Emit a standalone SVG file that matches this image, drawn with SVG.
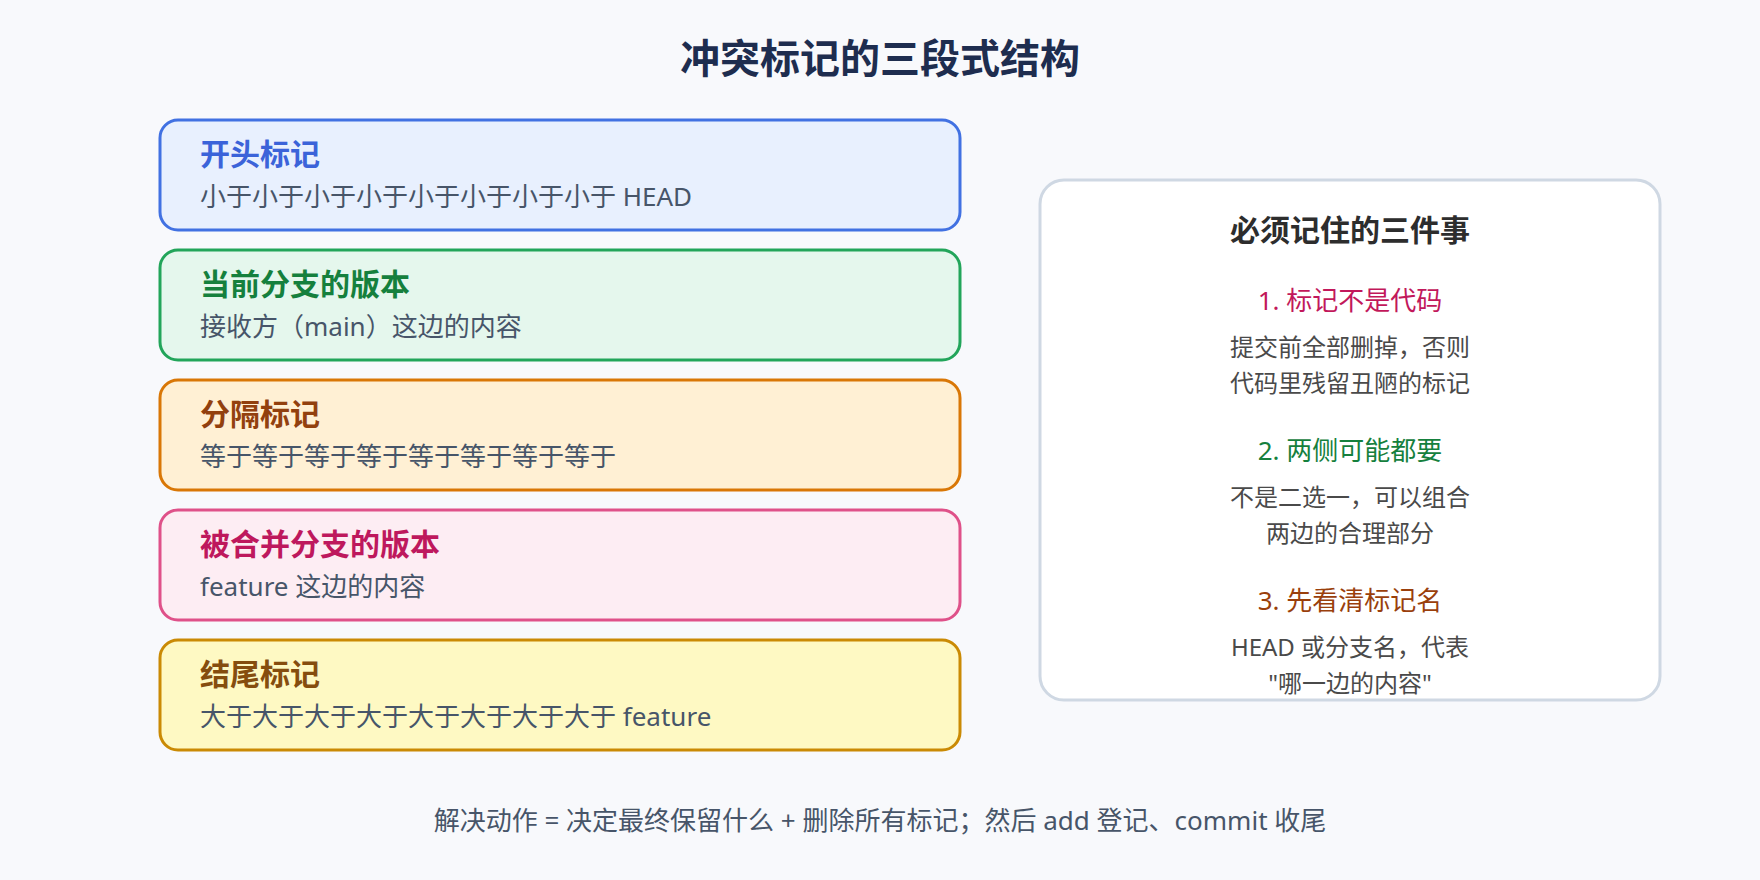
<svg xmlns="http://www.w3.org/2000/svg" width="1760" height="880" viewBox="0 0 1760 880">
<style>
text{font-family:"Noto Sans","Noto Sans CJK SC",sans-serif;}
.title{font-size:40px;font-weight:700;fill:#1e2d4f;text-anchor:middle;}
.box{stroke-width:3;}
.h{font-size:30px;font-weight:700;}
.s{font-size:26px;fill:#475569;}
.pt{font-size:30px;font-weight:700;fill:#2d2d2d;text-anchor:middle;}
.ih{font-size:26px;text-anchor:middle;}
.d{font-size:24px;fill:#4a4a4a;text-anchor:middle;}
.foot{font-size:26px;fill:#475569;text-anchor:middle;}
</style>
<rect x="0" y="0" width="1760" height="880" fill="#f8f9fc"/>
<text class="title" x="880" y="73">冲突标记的三段式结构</text>
<g id="start-marker">
<rect class="box" x="160" y="120" width="800" height="110" rx="18" fill="#e8f0fe" stroke="#4171e2"/>
<text class="h" x="200" y="165" fill="#3b63d9">开头标记</text>
<text class="s" x="200" y="206">小于小于小于小于小于小于小于小于 HEAD</text>
</g>
<g id="current-version">
<rect class="box" x="160" y="250" width="800" height="110" rx="18" fill="#e5f7ed" stroke="#22a55a"/>
<text class="h" x="200" y="295" fill="#15803d">当前分支的版本</text>
<text class="s" x="200" y="336">接收方（main）这边的内容</text>
</g>
<g id="separator">
<rect class="box" x="160" y="380" width="800" height="110" rx="18" fill="#fff0d4" stroke="#d97706"/>
<text class="h" x="200" y="425" fill="#92400e">分隔标记</text>
<text class="s" x="200" y="466">等于等于等于等于等于等于等于等于</text>
</g>
<g id="merged-version">
<rect class="box" x="160" y="510" width="800" height="110" rx="18" fill="#fdedf3" stroke="#df5189"/>
<text class="h" x="200" y="555" fill="#be185d">被合并分支的版本</text>
<text class="s" x="200" y="596">feature 这边的内容</text>
</g>
<g id="end-marker">
<rect class="box" x="160" y="640" width="800" height="110" rx="18" fill="#fef9c3" stroke="#ca8a04"/>
<text class="h" x="200" y="685" fill="#854d0e">结尾标记</text>
<text class="s" x="200" y="726">大于大于大于大于大于大于大于大于 feature</text>
</g>
<g id="remember-panel">
<rect x="1040" y="180" width="620" height="520" rx="24" fill="#ffffff" stroke="#cfd8e3" stroke-width="3"/>
<text class="pt" x="1350" y="241">必须记住的三件事</text>
<text class="ih" x="1350" y="310" fill="#c2185b">1. 标记不是代码</text>
<text class="d" x="1350" y="356">提交前全部删掉，否则</text>
<text class="d" x="1350" y="392">代码里残留丑陋的标记</text>
<text class="ih" x="1350" y="460" fill="#15803d">2. 两侧可能都要</text>
<text class="d" x="1350" y="506">不是二选一，可以组合</text>
<text class="d" x="1350" y="542">两边的合理部分</text>
<text class="ih" x="1350" y="610" fill="#9a3f0c">3. 先看清标记名</text>
<text class="d" x="1350" y="656">HEAD 或分支名，代表</text>
<text class="d" x="1350" y="692">"哪一边的内容"</text>
</g>
<g id="connectors"></g>
<text class="foot" x="880" y="830">解决动作 = 决定最终保留什么 + 删除所有标记；然后 add 登记、commit 收尾</text>
</svg>
